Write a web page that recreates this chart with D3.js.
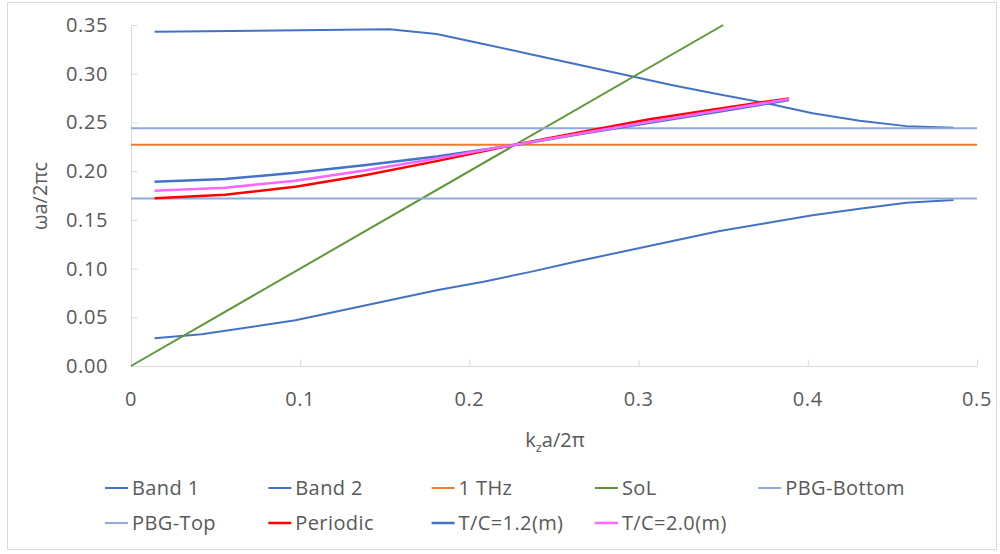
<!DOCTYPE html>
<html>
<head>
<meta charset="utf-8">
<script src="https://cdn.jsdelivr.net/npm/d3@7"></script>
<style>
    body { margin: 0; background: #fff; }
    #chart { width: 1000px; height: 554px; }
    text { font-family: "Open Sans", sans-serif; fill: #595959; }
</style>
</head>
<body>
<div id="chart"></div>
<script>
// band structure data (k_z a/2pi vs wa/2pic)
const kBand1 = [0.0139, 0.0417, 0.0972, 0.125, 0.1528, 0.1806, 0.2083, 0.2361, 0.2639, 0.2917, 0.3194, 0.3472, 0.375, 0.4028, 0.4306, 0.4583, 0.4861];
const band1 = [0.0284, 0.0325, 0.0470, 0.0572, 0.0674, 0.0777, 0.0865, 0.0966, 0.1075, 0.1178, 0.1280, 0.1383, 0.1465, 0.1548, 0.1615, 0.1675, 0.1704];

const kBand2 = [0.0139, 0.1528, 0.1806, 0.2083, 0.2361, 0.2639, 0.2917, 0.3194, 0.3472, 0.375, 0.4028, 0.4306, 0.4583, 0.4861];
const band2 = [0.3431, 0.3456, 0.3408, 0.3305, 0.3200, 0.3095, 0.2990, 0.2885, 0.2790, 0.2700, 0.2595, 0.2518, 0.2462, 0.2445];

const kFull = [0, 0.5];
const thz = [0.227, 0.227];
const pbgBottom = [0.172, 0.172];
const pbgTop = [0.244, 0.244];

const kSol = [0, 0.35];
const sol = [0, 0.35];

const kPeriodic = [0.0139, 0.0556, 0.0972, 0.1389, 0.1806, 0.2222, 0.2639, 0.3056, 0.3472, 0.3889];
const periodic = [0.1721, 0.1758, 0.1840, 0.1960, 0.2103, 0.2255, 0.2395, 0.2530, 0.2640, 0.2747];

const kTc12 = [0.0139, 0.0556, 0.0972, 0.1389, 0.1806, 0.2222, 0.2639, 0.3056, 0.3472, 0.3889];
const tc12 = [0.1892, 0.1919, 0.1984, 0.2062, 0.2150, 0.2255, 0.2375, 0.2495, 0.2610, 0.2730];

const kTc20 = [0.0139, 0.0556, 0.0972, 0.1389, 0.1806, 0.2222, 0.2639, 0.3056, 0.3472, 0.3889];
const tc20 = [0.1800, 0.1830, 0.1902, 0.2010, 0.2130, 0.2257, 0.2382, 0.2505, 0.2622, 0.2740];

const xTicks = [0, 0.1, 0.2, 0.3, 0.4, 0.5];
const yTicks = [0, 0.05, 0.10, 0.15, 0.20, 0.25, 0.30, 0.35];

class BandChart {
    constructor(parentElement) {
        this.parentElement = parentElement;

        // series in Excel drawing order
        this.series = [
            {name: "Band 1", k: kBand1, v: band1, color: "#4472C4", width: 2},
            {name: "Band 2", k: kBand2, v: band2, color: "#4472C4", width: 2},
            {name: "1 THz", k: kFull, v: thz, color: "#ED7D31", width: 2},
            {name: "SoL", k: kSol, v: sol, color: "#5E9739", width: 2},
            {name: "PBG-Bottom", k: kFull, v: pbgBottom, color: "#8FAADC", width: 2},
            {name: "PBG-Top", k: kFull, v: pbgTop, color: "#8FAADC", width: 2},
            {name: "Periodic", k: kPeriodic, v: periodic, color: "#FF0000", width: 2.5},
            {name: "T/C=1.2(m)", k: kTc12, v: tc12, color: "#4472C4", width: 2.5},
            {name: "T/C=2.0(m)", k: kTc20, v: tc20, color: "#FF66FF", width: 2.5}
        ];

        this.renderChart();
    }

    renderChart() {
        let vis = this;

        vis.svg = d3.select("#" + vis.parentElement).append("svg")
            .attr("width", 1000)
            .attr("height", 554);

        // chart area border
        vis.svg.append("rect")
            .attr("x", 7.5).attr("y", 2.5)
            .attr("width", 989).attr("height", 547)
            .attr("fill", "none")
            .attr("stroke", "#d9d9d9")
            .attr("stroke-width", 1);

        vis.x = d3.scaleLinear().domain([0, 0.5]).range([131, 977]);
        vis.y = d3.scaleLinear().domain([0, 0.35]).range([366, 25]);

        // y axis
        let yAxis = vis.svg.append("g")
            .attr("transform", "translate(131.5,0)")
            .call(d3.axisRight(vis.y).tickValues(yTicks).tickSize(6).tickFormat(""));
        yAxis.select(".domain").remove();
        yAxis.selectAll("line").attr("stroke", "#d9d9d9");
        yAxis.append("line")
            .attr("y1", vis.y(0)).attr("y2", vis.y(0.35))
            .attr("stroke", "#d9d9d9");

        vis.svg.append("g")
            .selectAll("text")
            .data(yTicks)
            .enter()
            .append("text")
            .attr("x", 108)
            .attr("y", d => vis.y(d) + 7)
            .attr("text-anchor", "end")
            .style("font-size", "20px")
            .style("letter-spacing", "0.6px")
            .text(d => d.toFixed(2));

        // x axis
        let xAxis = vis.svg.append("g")
            .attr("transform", "translate(0,366.5)")
            .call(d3.axisTop(vis.x).tickValues(xTicks).tickSize(7).tickFormat(""));
        xAxis.select(".domain").remove();
        xAxis.selectAll("line").attr("stroke", "#d9d9d9");
        xAxis.append("line")
            .attr("x1", vis.x(0)).attr("x2", vis.x(0.5))
            .attr("stroke", "#d9d9d9");

        vis.svg.append("g")
            .selectAll("text")
            .data(xTicks)
            .enter()
            .append("text")
            .attr("x", d => vis.x(d))
            .attr("y", 406)
            .attr("text-anchor", "middle")
            .style("font-size", "20px")
            .style("letter-spacing", "0.6px")
            .text(d => d === 0 ? "0" : d.toFixed(1));

        // axis titles
        let xTitle = vis.svg.append("text")
            .attr("x", 555)
            .attr("y", 447)
            .attr("text-anchor", "middle")
            .style("font-size", "20px");
        xTitle.append("tspan").text("k");
        xTitle.append("tspan").attr("dy", 5).style("font-size", "13px").text("z");
        xTitle.append("tspan").attr("dy", -5).text("a/2π");

        vis.svg.append("text")
            .attr("transform", "translate(47,196) rotate(-90)")
            .attr("text-anchor", "middle")
            .style("font-size", "20px")
            .text("ωa/2πc");

        // series lines
        let line = d3.line()
            .x(d => vis.x(d[0]))
            .y(d => vis.y(d[1]));

        vis.svg.append("g")
            .selectAll("path")
            .data(vis.series)
            .enter()
            .append("path")
            .attr("d", s => line(s.k.map((k, i) => [k, s.v[i]])))
            .attr("fill", "none")
            .attr("stroke", s => s.color)
            .attr("stroke-width", s => s.width)
            .attr("stroke-linejoin", "round");

        this.createLegend();
    }

    createLegend() {
        let vis = this;

        let items = vis.svg.append("g")
            .selectAll("g")
            .data(vis.series)
            .enter()
            .append("g")
            .attr("transform", (d, i) => `translate(${105 + (i % 5) * 163.3}, ${i < 5 ? 488 : 523})`);

        items.append("line")
            .attr("x1", 0).attr("x2", 23)
            .attr("stroke", d => d.color)
            .attr("stroke-width", d => d.width);

        items.append("text")
            .attr("x", 27)
            .attr("y", 7)
            .style("font-size", "20px")
            .style("letter-spacing", "0.4px")
            .text(d => d.name);
    }
}

new BandChart("chart");
</script>
</body>
</html>
